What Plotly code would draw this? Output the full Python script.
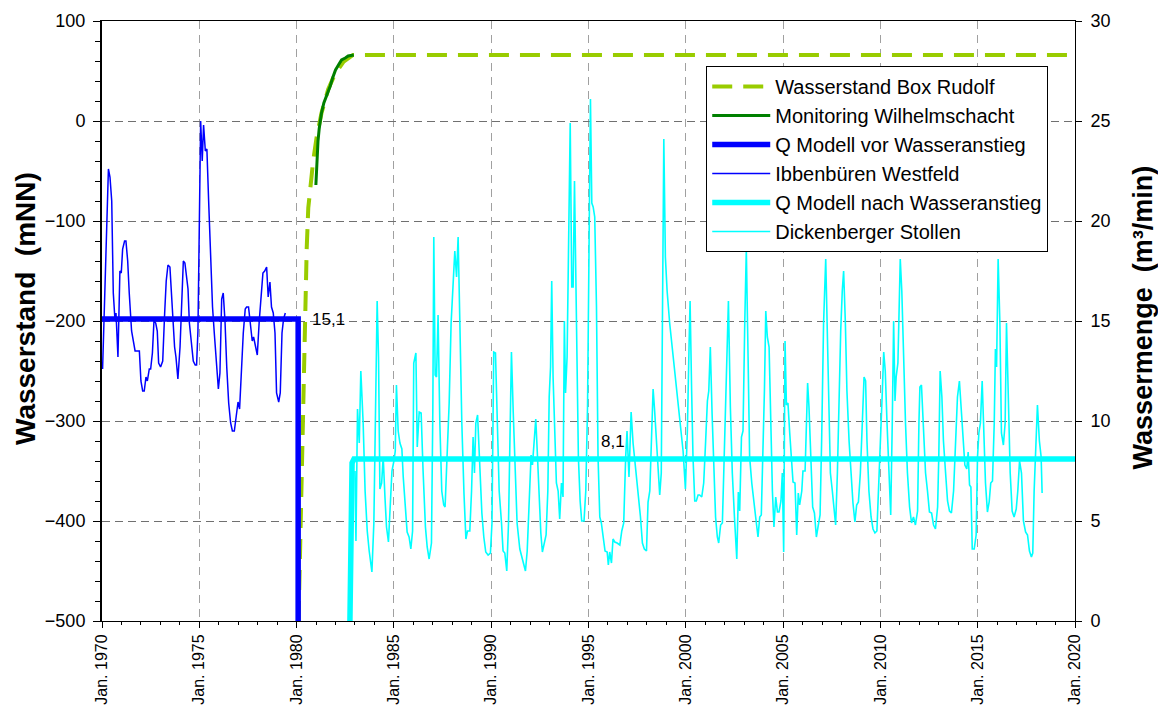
import plotly.graph_objects as go

# ---------------- data ----------------
TICK_YEARS = [1970, 1975, 1980, 1985, 1990, 1995, 2000, 2005, 2010, 2015, 2020]
TICK_TEXT = ["Jan. 1970", "Jan. 1975", "Jan. 1980", "Jan. 1985", "Jan. 1990", "Jan. 1995",
             "Jan. 2000", "Jan. 2005", "Jan. 2010", "Jan. 2015", "Jan. 2020"]

# Wasserstand Box Rudolf (mNN)
BR_YEAR = [1980.10, 1980.20, 1980.31, 1980.43, 1980.52, 1980.60, 1980.68, 1980.85, 1981.03,
           1981.28, 1981.62, 1981.97, 1982.40, 1982.90, 2020.00]
BR_LEVEL = [-500, -405, -286, -199, -127, -87, -72, -40, -16, 8, 31.5, 47, 59, 66, 66]

# Monitoring Wilhelmschacht (mNN)
MW_YEAR = [1980.99, 1981.03, 1981.10, 1981.16, 1981.28, 1981.40, 1981.50, 1981.62, 1981.73,
           1981.85, 1982.00, 1982.15, 1982.31, 1982.50, 1982.65, 1982.94]
MW_LEVEL = [-64, -40, -20, -8, 8, 18, 23, 30, 35, 43, 51, 56, 61, 63, 65, 66]

# Q Modell vor Wasseranstieg (m3/min)
QV_YEAR = [1970.0, 1980.08, 1980.08]
QV_Q = [15.1, 15.1, 0.0]

# Ibbenbueren Westfeld (m3/min)
IW_YEAR = [1970.03, 1970.33, 1970.41, 1970.50, 1970.58, 1970.67, 1970.72, 1970.82, 1970.92, 1970.99,
           1971.06, 1971.16, 1971.23, 1971.32, 1971.40, 1971.52, 1971.70, 1971.92, 1972.00, 1972.09,
           1972.17, 1972.26, 1972.33, 1972.43, 1972.50, 1972.59, 1972.67, 1972.76, 1972.84, 1972.91,
           1973.01, 1973.12, 1973.22, 1973.30, 1973.39, 1973.49, 1973.61, 1973.73, 1973.80, 1973.90,
           1974.01, 1974.09, 1974.18, 1974.26, 1974.35, 1974.42, 1974.49, 1974.59, 1974.69, 1974.79,
           1974.86, 1974.93, 1975.00, 1975.07, 1975.15, 1975.22, 1975.31, 1975.39, 1975.48, 1975.58,
           1975.68, 1975.77, 1975.89, 1975.98, 1976.06, 1976.15, 1976.23, 1976.32, 1976.41, 1976.51,
           1976.61, 1976.70, 1976.80, 1976.88, 1976.99, 1977.07, 1977.17, 1977.26, 1977.36, 1977.43,
           1977.53, 1977.62, 1977.72, 1977.79, 1977.88, 1977.98, 1978.08, 1978.17, 1978.27, 1978.36,
           1978.46, 1978.54, 1978.63, 1978.71, 1978.80, 1978.89, 1978.97, 1979.08, 1979.16, 1979.25,
           1979.33, 1979.42]
IW_Q = [12.6, 22.6, 22.2, 21.0, 16.4, 15.0, 15.4, 13.2, 17.5, 17.4,
        18.6, 19.0, 19.0, 18.0, 16.4, 14.5, 13.5, 13.5, 12.0, 11.5,
        11.5, 12.2, 12.0, 12.6, 12.6, 13.4, 15.0, 14.9, 14.5, 12.9,
        12.7, 13.0, 15.4, 17.0, 17.8, 17.7, 15.7, 13.7, 13.2, 12.1,
        13.7, 16.0, 18.0, 17.9, 16.95, 16.6, 14.9, 13.9, 13.0, 12.8,
        12.8, 14.5, 21.0, 25.0, 23.0, 24.8, 23.5, 23.6, 21.0, 18.2,
        15.7, 14.4, 12.9, 11.6, 12.4, 16.1, 16.4, 15.0, 12.7, 10.9,
        9.9, 9.5, 9.5, 10.2, 10.95, 10.6, 12.7, 14.4, 15.6, 15.7,
        15.7, 14.7, 14.0, 14.2, 13.7, 13.3, 15.0, 16.4, 17.4, 17.5,
        17.7, 16.2, 16.95, 15.7, 15.4, 14.4, 11.4, 10.95, 11.4, 14.4,
        15.1, 15.4]

# Q Modell nach Wasseranstieg (m3/min)
QN_YEAR = [1982.74, 1982.78, 1982.85, 1982.95, 2020.0]
QN_Q = [0.0, 7.4, 7.9, 8.1, 8.1]

# Dickenberger Stollen (m3/min)
DS_YEAR = [1983.00, 1983.05, 1983.13, 1983.22, 1983.30, 1983.42, 1983.52, 1983.63, 1983.73, 1983.87,
           1983.97, 1984.06, 1984.14, 1984.21, 1984.28, 1984.37, 1984.45, 1984.54, 1984.62, 1984.72,
           1984.83, 1984.90, 1985.00, 1985.07, 1985.13, 1985.22, 1985.31, 1985.41, 1985.48, 1985.58,
           1985.68, 1985.78, 1985.87, 1985.96, 1986.02, 1986.13, 1986.20, 1986.30, 1986.40, 1986.50,
           1986.62, 1986.71, 1986.81, 1986.93, 1987.00, 1987.05, 1987.12, 1987.19, 1987.27, 1987.36,
           1987.46, 1987.56, 1987.63, 1987.73, 1987.84, 1987.94, 1988.04, 1988.13, 1988.22, 1988.30,
           1988.39, 1988.49, 1988.60, 1988.70, 1988.78, 1988.90, 1988.99, 1989.07, 1989.14, 1989.21,
           1989.30, 1989.41, 1989.52, 1989.62, 1989.72, 1989.84, 1989.96, 1990.04, 1990.13, 1990.22,
           1990.30, 1990.41, 1990.53, 1990.61, 1990.70, 1990.80, 1990.89, 1990.97, 1991.04, 1991.13,
           1991.23, 1991.33, 1991.47, 1991.64, 1991.76, 1991.85, 1991.95, 1992.05, 1992.12, 1992.22,
           1992.29, 1992.38, 1992.46, 1992.55, 1992.63, 1992.74, 1992.82, 1992.91, 1992.98, 1993.05,
           1993.11, 1993.18, 1993.27, 1993.35, 1993.44, 1993.52, 1993.61, 1993.69, 1993.76, 1993.82,
           1993.90, 1993.99, 1994.06, 1994.14, 1994.21, 1994.28, 1994.35, 1994.41, 1994.48, 1994.57,
           1994.65, 1994.77, 1994.86, 1994.95, 1995.03, 1995.10, 1995.17, 1995.24, 1995.32, 1995.41,
           1995.49, 1995.58, 1995.66, 1995.75, 1995.85, 1995.96, 1996.02, 1996.09, 1996.18, 1996.26,
           1996.35, 1996.47, 1996.61, 1996.71, 1996.81, 1996.91, 1996.98, 1997.08, 1997.19, 1997.29,
           1997.43, 1997.55, 1997.67, 1997.77, 1997.87, 1997.98, 1998.06, 1998.15, 1998.25, 1998.32,
           1998.40, 1998.49, 1998.57, 1998.66, 1998.74, 1998.80, 1998.87, 1998.95, 1999.04, 1999.17,
           1999.35, 1999.52, 1999.69, 1999.86, 1999.98, 2000.08, 2000.17, 2000.22, 2000.30, 2000.37,
           2000.46, 2000.54, 2000.63, 2000.71, 2000.82, 2000.92, 2001.02, 2001.11, 2001.18, 2001.26,
           2001.35, 2001.43, 2001.53, 2001.62, 2001.69, 2001.79, 2001.88, 2001.95, 2002.05, 2002.12,
           2002.19, 2002.29, 2002.39, 2002.50, 2002.62, 2002.70, 2002.77, 2002.86, 2002.94, 2003.03,
           2003.11, 2003.20, 2003.28, 2003.39, 2003.49, 2003.59, 2003.71, 2003.80, 2003.88, 2003.97,
           2004.04, 2004.11, 2004.19, 2004.28, 2004.36, 2004.45, 2004.53, 2004.62, 2004.71, 2004.79,
           2004.89, 2004.96, 2005.03, 2005.10, 2005.17, 2005.25, 2005.34, 2005.44, 2005.51, 2005.61,
           2005.70, 2005.78, 2005.85, 2005.96, 2006.02, 2006.13, 2006.19, 2006.26, 2006.33, 2006.43,
           2006.52, 2006.61, 2006.71, 2006.81, 2006.90, 2006.98, 2007.08, 2007.19, 2007.27, 2007.36,
           2007.43, 2007.53, 2007.62, 2007.70, 2007.79, 2007.87, 2007.96, 2008.04, 2008.11, 2008.20,
           2008.28, 2008.39, 2008.49, 2008.59, 2008.69, 2008.78, 2008.87, 2008.97, 2009.07, 2009.16,
           2009.24, 2009.31, 2009.41, 2009.52, 2009.62, 2009.72, 2009.82, 2009.91, 2009.99, 2010.10,
           2010.17, 2010.25, 2010.34, 2010.43, 2010.53, 2010.61, 2010.68, 2010.75, 2010.81, 2010.90,
           2011.02, 2011.10, 2011.19, 2011.29, 2011.39, 2011.50, 2011.60, 2011.70, 2011.80, 2011.91,
           2011.98, 2012.03, 2012.11, 2012.22, 2012.32, 2012.42, 2012.52, 2012.63, 2012.73, 2012.83,
           2012.94, 2013.00, 2013.07, 2013.16, 2013.24, 2013.35, 2013.45, 2013.55, 2013.65, 2013.76,
           2013.86, 2013.96, 2014.06, 2014.15, 2014.24, 2014.34, 2014.44, 2014.51, 2014.58, 2014.65,
           2014.72, 2014.82, 2014.92, 2014.99, 2015.06, 2015.14, 2015.23, 2015.32, 2015.40, 2015.50,
           2015.59, 2015.67, 2015.76, 2015.85, 2015.91, 2015.97, 2016.05, 2016.14, 2016.22, 2016.32,
           2016.41, 2016.48, 2016.56, 2016.67, 2016.77, 2016.87, 2016.98, 2017.06, 2017.15, 2017.25,
           2017.35, 2017.46, 2017.56, 2017.66, 2017.76, 2017.83, 2017.90, 2018.00, 2018.07, 2018.17,
           2018.26, 2018.31]
DS_Q = [7.5, 4.0, 10.6, 8.9, 12.5, 9.9, 6.5, 4.5, 3.5, 2.45,
        4.9, 9.9, 16.0, 13.2, 6.6, 6.9, 8.2, 6.2, 4.7, 3.95,
        6.5, 7.5, 8.0, 8.5, 11.8, 9.5, 8.9, 8.6, 7.2, 5.9,
        4.45, 4.2, 3.6, 4.5, 12.9, 13.4, 8.7, 10.45, 10.4, 7.5,
        4.7, 3.7, 3.1, 3.9, 10.5, 19.2, 12.3, 12.2, 15.3, 9.9,
        6.5, 5.8, 5.7, 8.2, 10.9, 14.9, 16.9, 18.5, 17.2, 19.2,
        14.9, 9.9, 6.4, 4.1, 4.5, 4.5, 6.5, 9.2, 7.4, 9.9,
        10.3, 7.9, 5.4, 4.2, 3.45, 3.3, 3.4, 4.9, 13.45, 13.4,
        9.9, 6.5, 4.9, 3.5, 3.4, 2.5, 4.9, 9.9, 13.45, 10.5,
        7.2, 4.9, 3.6, 2.9, 2.5, 3.5, 5.7, 8.3, 7.8, 9.2,
        10.1, 8.2, 5.9, 4.4, 3.45, 4.0, 4.3, 6.5, 11.2, 12.7,
        17.0, 12.2, 8.7, 6.9, 6.5, 5.1, 6.9, 6.2, 15.0, 11.4,
        13.2, 20.2, 24.9, 16.7, 16.7, 22.0, 16.5, 11.5, 8.2, 6.0,
        5.0, 5.0, 6.5, 10.7, 18.2, 26.1, 20.9, 20.7, 20.2, 15.7,
        8.2, 5.2, 4.9, 4.2, 3.5, 3.45, 2.8, 3.45, 2.9, 4.1,
        3.95, 3.9, 3.8, 4.5, 4.9, 8.2, 9.5, 7.2, 10.45, 8.9,
        7.5, 6.5, 5.2, 3.9, 3.6, 3.5, 5.95, 6.5, 9.5, 11.6,
        10.5, 9.0, 7.4, 6.3, 7.4, 16.5, 24.1, 18.2, 16.5, 14.9,
        13.2, 11.5, 9.9, 8.5, 6.6, 9.5, 13.9, 16.0, 11.5, 8.2,
        6.0, 6.0, 6.3, 6.3, 6.2, 6.9, 9.0, 11.0, 11.5, 13.7,
        10.4, 8.2, 5.2, 4.2, 3.9, 4.8, 4.9, 7.4, 11.5, 13.4,
        16.0, 10.7, 7.4, 5.2, 3.1, 6.45, 5.5, 9.2, 9.5, 14.9,
        18.6, 13.2, 8.2, 6.9, 5.9, 5.2, 4.2, 5.2, 5.3, 8.2,
        11.5, 15.5, 14.2, 13.7, 9.9, 6.5, 4.7, 6.2, 5.45, 5.45,
        6.0, 7.4, 3.45, 14.0, 10.8, 10.9, 9.4, 8.2, 6.95, 6.9,
        4.3, 6.4, 5.8, 6.5, 7.5, 7.5, 9.9, 11.9, 10.7, 8.2,
        5.7, 5.4, 4.2, 4.8, 5.3, 9.0, 14.9, 18.1, 14.9, 11.5,
        7.4, 6.5, 5.7, 4.8, 7.4, 11.5, 14.5, 16.5, 17.5, 14.9,
        11.5, 9.0, 7.4, 5.9, 4.95, 5.8, 5.95, 7.4, 9.9, 12.2,
        12.0, 9.0, 6.5, 5.2, 4.6, 4.4, 4.5, 6.5, 8.2, 11.5,
        13.45, 12.5, 9.9, 7.4, 5.3, 9.9, 15.0, 11.0, 12.2, 12.9,
        18.1, 16.5, 13.2, 9.9, 7.4, 5.7, 4.9, 5.2, 4.8, 5.5,
        9.9, 11.7, 11.8, 9.0, 7.4, 6.5, 5.45, 5.4, 4.8, 4.6,
        5.7, 8.2, 12.5, 11.2, 9.0, 7.4, 6.0, 5.5, 5.4, 6.5,
        9.0, 11.2, 12.0, 10.7, 8.9, 7.8, 7.6, 8.45, 6.8, 6.7,
        3.6, 3.6, 4.3, 8.2, 9.4, 9.9, 12.0, 9.0, 6.9, 5.45,
        5.95, 6.9, 7.0, 9.9, 13.6, 12.7, 18.1, 14.9, 9.4, 8.8,
        9.9, 14.9, 11.5, 7.4, 5.5, 5.2, 5.6, 6.5, 8.0, 7.4,
        5.0, 4.45, 4.3, 3.5, 3.2, 3.4, 6.5, 9.0, 10.8, 9.0,
        8.2, 6.4]

LABEL_QV = "15,1"
LABEL_QN = "8,1"

FONT = "Liberation Sans, Arial, sans-serif"

# ---------------- figure ----------------
fig = go.Figure()

fig.add_trace(go.Scatter(x=BR_YEAR, y=BR_LEVEL, mode="lines", name="Wasserstand Box Rudolf",
                         line=dict(color="#99CC00", width=4, dash="20px,11px"),
                         legendgroup="g1"))
fig.add_trace(go.Scatter(x=MW_YEAR, y=MW_LEVEL, mode="lines", name="Monitoring Wilhelmschacht",
                         line=dict(color="#008000", width=3), legendgroup="g2"))
fig.add_trace(go.Scatter(x=QV_YEAR, y=QV_Q, mode="lines", name="Q Modell vor Wasseranstieg",
                         yaxis="y2", line=dict(color="#0000FF", width=5.5), legendgroup="g3"))
fig.add_trace(go.Scatter(x=IW_YEAR, y=IW_Q, mode="lines", name="Ibbenbüren Westfeld",
                         yaxis="y2", line=dict(color="#0000FF", width=1.5), legendgroup="g4"))
fig.add_trace(go.Scatter(x=QN_YEAR, y=QN_Q, mode="lines", name="Q Modell nach Wasseranstieg",
                         yaxis="y2", line=dict(color="#00FFFF", width=5.5), legendgroup="g5"))
fig.add_trace(go.Scatter(x=DS_YEAR, y=DS_Q, mode="lines", name="Dickenberger Stollen",
                         yaxis="y2", line=dict(color="#00FFFF", width=1.6), legendgroup="g6"))

fig.update_layout(
    width=1158, height=713,
    margin=dict(l=102, r=83, t=21, b=92, autoexpand=False),
    paper_bgcolor="white", plot_bgcolor="white",
    font=dict(family=FONT, color="black", size=16),
    xaxis=dict(
        range=[1970, 2020], tickmode="array", tickvals=TICK_YEARS, ticktext=TICK_TEXT,
        tickangle=-90, tickfont=dict(size=16), ticks="outside", ticklen=6, tickcolor="black",
        showline=True, linecolor="black", linewidth=1, mirror=True,
        showgrid=True, gridcolor="#A0A0A0", griddash="8px,6px", gridwidth=1,
        zeroline=False,
        minor=dict(dtick=1, tick0=1970, ticks="outside", ticklen=3, tickcolor="black", showgrid=False),
    ),
    yaxis=dict(
        range=[-500, 100], dtick=100, tick0=-500, tickfont=dict(size=18),
        ticks="outside", ticklen=7, tickcolor="black", ticklabelstandoff=4,
        showline=True, linecolor="black", linewidth=2,
        showgrid=True, gridcolor="#707070", griddash="8px,5px", gridwidth=1,
        zeroline=False,
        minor=dict(dtick=20, ticks="outside", ticklen=5, tickcolor="black", showgrid=False),
    ),
    yaxis2=dict(
        range=[0, 30], dtick=5, tick0=0, tickfont=dict(size=18), overlaying="y", side="right",
        ticks="outside", ticklen=6, tickcolor="black", ticklabelstandoff=5,
        showline=True, linecolor="black", linewidth=1,
        showgrid=False, zeroline=False,
    ),
    legend=dict(
        x=0.621, y=0.925, xanchor="left", yanchor="top",
        bgcolor="white", bordercolor="black", borderwidth=1,
        font=dict(size=20, family=FONT), tracegroupgap=3, itemwidth=58,
        traceorder="normal",
    ),
    showlegend=True,
)

fig.add_annotation(x=1980.68, y=15.1, yref="y2", xref="x", text=LABEL_QV, showarrow=False,
                   xanchor="left", yanchor="middle", font=dict(size=17, family=FONT))
fig.add_annotation(x=1996.25, y=9.0, yref="y2", xref="x", text=LABEL_QN, showarrow=False,
                   xanchor="center", yanchor="middle", font=dict(size=17, family=FONT))

fig.add_annotation(x=0, y=0.52, xref="paper", yref="paper", text="<b>Wasserstand\u00a0 (mNN)</b>",
                   textangle=-90, showarrow=False, xanchor="center", yanchor="middle", xshift=-77,
                   font=dict(size=28, family=FONT))
fig.add_annotation(x=1, y=0.506, xref="paper", yref="paper", text="<b>Wassermenge\u00a0 (m³/min)</b>",
                   textangle=-90, showarrow=False, xanchor="center", yanchor="middle", xshift=68,
                   font=dict(size=27, family=FONT))

fig.write_html("out.html")
